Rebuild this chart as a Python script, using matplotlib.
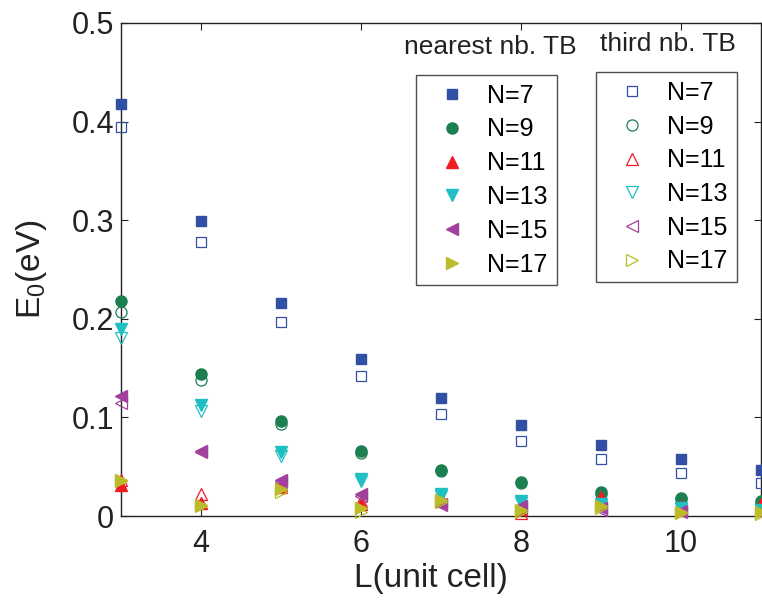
import numpy as np
import matplotlib
matplotlib.use("Agg")
import matplotlib.pyplot as plt

plt.rcParams['font.family'] = ['Liberation Sans', 'DejaVu Sans']
plt.rcParams['mathtext.fontset'] = 'custom'
plt.rcParams['mathtext.rm'] = 'Liberation Sans'

# ribbon length in unit cells
L = [3, 4, 5, 6, 7, 8, 9, 10, 11]
widths = [7, 9, 11, 13, 15, 17]

# E0 (eV), nearest neighbour TB
nn_7 = [0.418, 0.299, 0.216, 0.159, 0.120, 0.092, 0.072, 0.058, 0.047]
nn_9 = [0.218, 0.144, 0.096, 0.066, 0.047, 0.034, 0.024, 0.018, 0.015]
nn_11 = [0.031, 0.013, 0.029, 0.012, 0.018, 0.007, 0.019, 0.010, 0.012]
nn_13 = [0.190, 0.113, 0.065, 0.038, 0.022, 0.015, 0.012, 0.008, 0.006]
nn_15 = [0.122, 0.066, 0.037, 0.022, 0.012, 0.010, 0.008, 0.005, 0.004]
nn_17 = [0.037, 0.011, 0.027, 0.008, 0.016, 0.006, 0.010, 0.004, 0.004]

# E0 (eV), third nearest neighbour TB
tn_7 = [0.395, 0.278, 0.197, 0.142, 0.103, 0.076, 0.058, 0.044, 0.033]
tn_9 = [0.207, 0.138, 0.093, 0.064, 0.046, 0.033, 0.022, 0.017, 0.013]
tn_11 = [0.037, 0.022, 0.031, 0.015, 0.015, 0.003, 0.016, 0.006, 0.009]
tn_13 = [0.181, 0.106, 0.061, 0.035, 0.020, 0.013, 0.010, 0.007, 0.005]
tn_15 = [0.115, 0.065, 0.034, 0.020, 0.011, 0.008, 0.006, 0.004, 0.003]
tn_17 = [0.035, 0.010, 0.024, 0.004, 0.014, 0.004, 0.008, 0.003, 0.002]

nn_data = [nn_7, nn_9, nn_11, nn_13, nn_15, nn_17]
tn_data = [tn_7, tn_9, tn_11, tn_13, tn_15, tn_17]

colors = ['#3150a3', '#1b7f52', '#ee1d24', '#1fbfc2', '#a2409e', '#bcbc2a']
markers = ['s', 'o', '^', 'v', '<', '>']
sizes = [7, 8, 8.5, 8.5, 8.5, 8.5]

fig = plt.figure(figsize=(7.62, 6.04), dpi=100)
ax = fig.add_axes([121 / 762, 1 - 516 / 604, 640 / 762, 493 / 604])

nn_handles = []
tn_handles = []
for n, ynn, ytn, c, m, s in zip(widths, nn_data, tn_data, colors, markers, sizes):
    h1, = ax.plot(L, ynn, ls='none', marker=m, ms=s, color=c, mec=c,
                  clip_on=False, zorder=3, label=f'N={n}')
    h2, = ax.plot(L, ytn, ls='none', marker=m, ms=s, mfc='none', mec=c,
                  mew=0.9, clip_on=False, zorder=3, label=f'N={n}')
    nn_handles.append(h1)
    tn_handles.append(h2)

ax.set_xlim(3, 11)
ax.set_ylim(0, 0.5)
ax.set_xticks([4, 6, 8, 10])
ax.set_yticks([0, 0.1, 0.2, 0.3, 0.4, 0.5])
ax.set_yticklabels(['0', '0.1', '0.2', '0.3', '0.4', '0.5'])
ax.tick_params(direction='in', top=True, right=True, length=5, width=0.8,
               labelsize=22, colors='#222222')
ax.tick_params(axis='x', pad=9)
ax.tick_params(axis='y', pad=5)
for sp in ax.spines.values():
    sp.set_color('#222222')
    sp.set_linewidth(1.0)

ax.set_xlabel('L(unit cell)', fontsize=24, color='#222222', labelpad=6)
ax.xaxis.set_label_coords(0.484, -0.095)
ax.set_ylabel(r'$\mathregular{E_0}$(eV)', fontsize=24, color='#222222', labelpad=16)

leg_kw = dict(loc='upper left', fontsize=18, frameon=True, fancybox=False,
              borderpad=0.35, handlelength=2.2, handletextpad=0.3,
              labelspacing=0.39, borderaxespad=0, bbox_transform=fig.transFigure)
leg1 = ax.legend(handles=nn_handles, bbox_to_anchor=(416 / 762, 1 - 75 / 604), **leg_kw)
leg1.get_frame().set_edgecolor('#222222')
leg1.get_frame().set_linewidth(1.0)
ax.add_artist(leg1)
leg2 = ax.legend(handles=tn_handles, bbox_to_anchor=(596 / 762, 1 - 72 / 604), **leg_kw)
leg2.get_frame().set_edgecolor('#222222')
leg2.get_frame().set_linewidth(1.0)

fig.text(490 / 762, 1 - 47 / 604, 'nearest nb. TB', fontsize=19, ha='center',
         va='center', color='#222222')
fig.text(668 / 762, 1 - 44 / 604, 'third nb. TB', fontsize=19, ha='center',
         va='center', color='#222222')

fig.savefig('out.png', dpi=100)
